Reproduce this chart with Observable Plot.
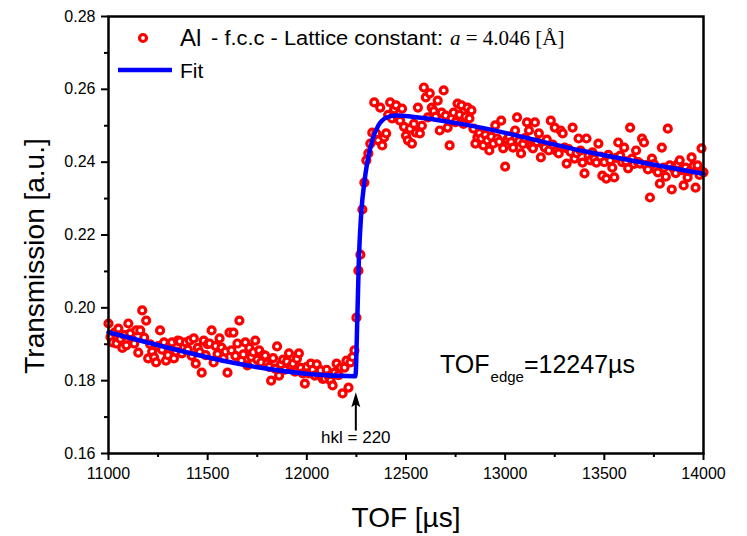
<!DOCTYPE html>
<html><head><meta charset="utf-8">
<script src="https://cdn.jsdelivr.net/npm/d3@7"></script>
<script src="https://cdn.jsdelivr.net/npm/@observablehq/plot@0.6"></script>
<style>body{margin:0;background:#fff}</style>
</head><body><div id="chart"></div>
<script>
const tof = [
11000,11010,11020,11030,11040,11050,11060,11070,11080,11090,
11100,11110,11120,11130,11140,11150,11160,11170,11180,11190,
11200,11210,11220,11230,11240,11250,11260,11270,11280,11290,
11300,11310,11320,11330,11340,11350,11360,11370,11380,11390,
11400,11410,11420,11430,11440,11450,11460,11470,11480,11490,
11500,11510,11520,11530,11540,11550,11560,11570,11580,11590,
11600,11610,11620,11630,11640,11650,11660,11670,11680,11690,
11700,11710,11720,11730,11740,11750,11760,11770,11780,11790,
11800,11810,11820,11830,11840,11850,11860,11870,11880,11890,
11900,11910,11920,11930,11940,11950,11960,11970,11980,11990,
12000,12010,12020,12030,12040,12050,12060,12070,12080,12090,
12100,12110,12120,12130,12140,12150,12160,12170,12180,12190,
12200,12210,12220,12230,12240,12250,12260,12270,12280,12290,
12300,12310,12320,12330,12340,12350,12360,12370,12380,12390,
12400,12410,12420,12430,12440,12450,12460,12470,12480,12490,
12500,12510,12520,12530,12540,12550,12560,12570,12580,12590,
12600,12610,12620,12630,12640,12650,12660,12670,12680,12690,
12700,12710,12720,12730,12740,12750,12760,12770,12780,12790,
12800,12810,12820,12830,12840,12850,12860,12870,12880,12890,
12900,12910,12920,12930,12940,12950,12960,12970,12980,12990,
13000,13010,13020,13030,13040,13050,13060,13070,13080,13090,
13100,13110,13120,13130,13140,13150,13160,13170,13180,13190,
13200,13210,13220,13230,13240,13250,13260,13270,13280,13290,
13300,13310,13320,13330,13340,13350,13360,13370,13380,13390,
13400,13410,13420,13430,13440,13450,13460,13470,13480,13490,
13500,13510,13520,13530,13540,13550,13560,13570,13580,13590,
13600,13610,13620,13630,13640,13650,13660,13670,13680,13690,
13700,13710,13720,13730,13740,13750,13760,13770,13780,13790,
13800,13810,13820,13830,13840,13850,13860,13870,13880,13890,
13900,13910,13920,13930,13940,13950,13960,13970,13980,13990,
14000];
const transmission = [
0.1957,0.1920,0.1905,0.1932,0.1902,0.1943,0.1915,0.1890,0.1925,0.1897,
0.1957,0.1930,0.1912,0.1902,0.1938,0.1877,0.1938,0.1993,0.1918,0.1965,
0.1861,0.1900,0.1880,0.1864,0.1850,0.1895,0.1938,0.1885,0.1905,0.1855,
0.1870,0.1897,0.1905,0.1861,0.1880,0.1910,0.1908,0.1875,0.1892,0.1905,
0.1885,0.1910,0.1868,0.1916,0.1847,0.1890,0.1878,0.1822,0.1910,0.1870,
0.1900,0.1902,0.1938,0.1850,0.1895,0.1873,0.1916,0.1891,0.1862,0.1880,
0.1822,0.1932,0.1883,0.1932,0.1868,0.1902,0.1965,0.1855,0.1872,0.1905,
0.1842,0.1890,0.1865,0.1878,0.1910,0.1858,0.1883,0.1850,0.1870,0.1869,
0.1847,0.1838,0.1800,0.1862,0.1833,0.1894,0.1814,0.1845,0.1858,0.1830,
0.1852,0.1875,0.1840,0.1847,0.1825,0.1860,0.1875,0.1835,0.1820,0.1792,
0.1838,0.1820,0.1847,0.1830,0.1814,0.1845,0.1818,0.1828,0.1805,0.1806,
0.1830,0.1812,0.1800,0.1787,0.1822,0.1847,0.1815,0.1836,0.1765,0.1836,
0.1855,0.1781,0.1850,0.1865,0.1883,0.1973,0.2102,0.2146,0.2270,0.2344,
0.2405,0.2424,0.2451,0.2481,0.2564,0.2479,0.2460,0.2550,0.2446,0.2468,
0.2479,0.2530,0.2564,0.2520,0.2545,0.2556,0.2520,0.2514,0.2547,0.2497,
0.2473,0.2460,0.2492,0.2451,0.2505,0.2481,0.2550,0.2479,0.2500,0.2605,
0.2578,0.2523,0.2589,0.2550,0.2540,0.2525,0.2569,0.2487,0.2536,0.2597,
0.2528,0.2495,0.2446,0.2520,0.2536,0.2510,0.2561,0.2530,0.2556,0.2505,
0.2525,0.2550,0.2520,0.2542,0.2492,0.2451,0.2468,0.2480,0.2465,0.2446,
0.2475,0.2460,0.2432,0.2470,0.2451,0.2501,0.2465,0.2456,0.2514,0.2438,
0.2388,0.2462,0.2470,0.2455,0.2440,0.2487,0.2523,0.2458,0.2424,0.2450,
0.2466,0.2509,0.2487,0.2445,0.2438,0.2509,0.2455,0.2479,0.2413,0.2450,
0.2440,0.2462,0.2432,0.2514,0.2448,0.2495,0.2430,0.2424,0.2487,0.2479,
0.2440,0.2396,0.2436,0.2428,0.2495,0.2410,0.2425,0.2465,0.2432,0.2399,
0.2369,0.2465,0.2418,0.2405,0.2427,0.2410,0.2399,0.2451,0.2415,0.2363,
0.2400,0.2355,0.2420,0.2405,0.2385,0.2358,0.2412,0.2454,0.2418,0.2400,
0.2440,0.2402,0.2383,0.2495,0.2410,0.2395,0.2432,0.2400,0.2396,0.2465,
0.2454,0.2392,0.2380,0.2303,0.2410,0.2395,0.2380,0.2372,0.2341,0.2440,
0.2385,0.2360,0.2492,0.2391,0.2325,0.2382,0.2370,0.2395,0.2405,0.2378,
0.2336,0.2385,0.2358,0.2375,0.2413,0.2390,0.2330,0.2391,0.2365,0.2438,
0.2372];
const fitTof   = [11000, 12245, 12255, 12262, 12275, 12290, 12305, 12330, 12360, 12400, 12450, 12530, 12800, 13400, 14000];
const fitValue = [0.1933,0.1812,0.1980,0.2125,0.2265,0.2345,0.2400,0.2460,0.2500,0.2522,0.2528,0.2525,0.2503,0.2430,0.2368];
const xTicks = [11000,11500,12000,12500,13000,13500,14000];
const xMinorTicks = [11250,11750,12250,12750,13250,13750];
const yTicks = [0.16,0.18,0.20,0.22,0.24,0.26,0.28];
const yMinorTicks = [0.17,0.19,0.21,0.23,0.25,0.27];
const edgeTof = 12247;
const edgeLabel = "hkl = 220";
const edgeText = ["TOF", "edge", "=12247\u00b5s"];
const seriesLabel = ["Al", " - f.c.c - Lattice constant:", "a", " = 4.046 [\u00c5]"];
const fitLabel = "Fit";

const points = tof.map((t, i) => ({tof: t, v: transmission[i]}));
const fit = fitTof.map((t, i) => ({tof: t, v: fitValue[i]}));
const arrow = [{tof: edgeTof, from: 0.1663, to: 0.1742, head: 0.1746, label: 0.1644}];
const arrowHead = {draw(ctx) { ctx.moveTo(0, -8); ctx.lineTo(4.5, 7); ctx.lineTo(0, 4); ctx.lineTo(-4.5, 7); ctx.closePath(); }};

const sans = "'Liberation Sans', Arial, Helvetica, sans-serif";
const serif = "'Liberation Serif', 'Times New Roman', serif";

const chart = Plot.plot({
  width: 747, height: 536,
  marginLeft: 108, marginRight: 44, marginTop: 16, marginBottom: 83,
  style: {fontFamily: sans, fontSize: "16px", background: "white", color: "black", overflow: "visible"},
  x: {domain: [11000, 14000]},
  y: {domain: [0.16, 0.28]},
  marks: [
    Plot.dot(points, {x: "tof", y: "v", r: 3.5, stroke: "#ff0000", strokeWidth: 3.2, fill: "white"}),
    Plot.line(fit, {x: "tof", y: "v", stroke: "#0000ff", strokeWidth: 4.5, curve: "monotone-x"}),
    Plot.link(arrow, {x1: "tof", x2: "tof", y1: "from", y2: "to", stroke: "black", strokeWidth: 2}),
    Plot.dot(arrow, {x: "tof", y: "head", symbol: arrowHead, r: 4, fill: "black", stroke: "none"}),
    Plot.text(arrow, {x: "tof", y: "label", text: () => edgeLabel, fontSize: 17, fill: "black"}),
    Plot.frame({stroke: "black", strokeWidth: 2.5}),
    Plot.axisX({ticks: xTicks, tickSize: 7, tickPadding: 7, strokeWidth: 2, fontSize: 16, label: null, tickFormat: d => String(d)}),
    Plot.axisX({ticks: xMinorTicks, tickSize: 4, strokeWidth: 2, text: null, label: null}),
    Plot.axisY({ticks: yTicks, tickSize: 7, tickPadding: 6, strokeWidth: 2, fontSize: 16, label: null, tickFormat: d3.format(".2f")}),
    Plot.axisY({ticks: yMinorTicks, tickSize: 4, strokeWidth: 2, text: null, label: null}),
    Plot.text(["Transmission [a.u.]"], {frameAnchor: "left", dx: -73, dy: 21, rotate: -90, textAnchor: "middle", lineAnchor: "middle", text: d => d, fontSize: 28}),
    Plot.text(["TOF [\u00b5s]"], {frameAnchor: "bottom", dy: 65, textAnchor: "middle", lineAnchor: "middle", text: d => d, fontSize: 28})
  ]
});

const svg = d3.select(chart);
const g = svg.append("g").attr("font-family", sans).attr("fill", "black").attr("text-anchor", "start");
// legend
g.append("circle").attr("cx", 143).attr("cy", 38).attr("r", 3.5)
  .attr("fill", "white").attr("stroke", "#ff0000").attr("stroke-width", 3.2);
g.append("text").attr("x", 180).attr("y", 46).attr("font-size", 24).attr("text-anchor", "start").text(seriesLabel[0]);
g.append("text").attr("x", 205).attr("y", 45).attr("font-size", 20).attr("text-anchor", "start")
  .attr("textLength", 238).attr("lengthAdjust", "spacingAndGlyphs").text(seriesLabel[1]);
const t3 = g.append("text").attr("x", 450).attr("y", 45).attr("font-size", 21).attr("font-family", serif).attr("text-anchor", "start");
t3.append("tspan").attr("font-style", "italic").text(seriesLabel[2]);
t3.append("tspan").text(seriesLabel[3]);
g.append("line").attr("x1", 118).attr("x2", 172).attr("y1", 70).attr("y2", 70)
  .attr("stroke", "#0000ff").attr("stroke-width", 4.5);
g.append("text").attr("x", 180).attr("y", 78).attr("font-size", 21).attr("text-anchor", "start").text(fitLabel);
// TOF edge annotation
const te = g.append("text").attr("x", 440).attr("y", 373).attr("font-size", 25).attr("text-anchor", "start");
te.append("tspan").text(edgeText[0]);
te.append("tspan").attr("font-size", 15).attr("dy", 9).attr("dx", 1).text(edgeText[1]);
te.append("tspan").attr("dy", -9).text(edgeText[2]);

document.getElementById("chart").appendChild(chart);
</script>
</body></html>
